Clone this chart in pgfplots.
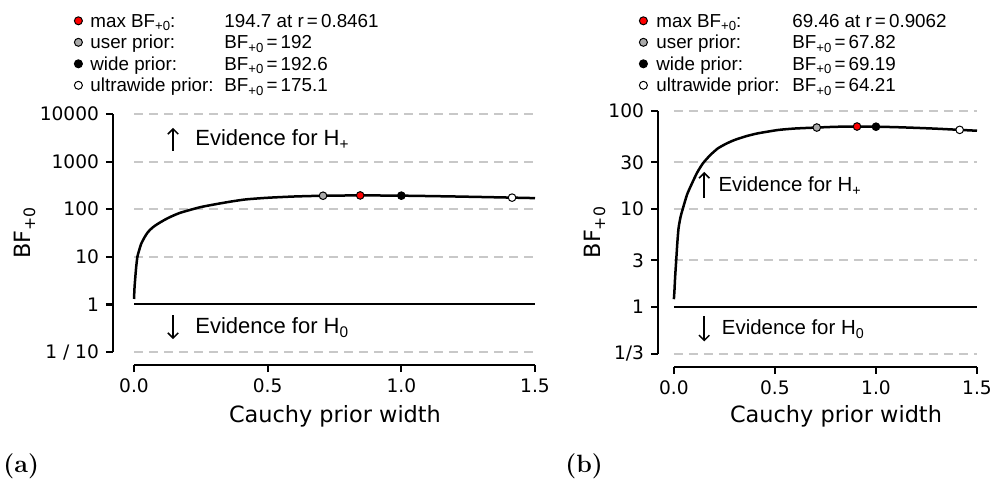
\documentclass[border=0pt]{standalone}
\usepackage{fontspec}
\usepackage{pgfplots}
\pgfplotsset{compat=1.18}
\usetikzlibrary{arrows.meta}
\newfontfamily\arial{Liberation Sans}
\newfontfamily\tickfont{DejaVu Sans}
\definecolor{gridgray}{RGB}{200,200,200}
\definecolor{usergray}{RGB}{170,170,170}
\newcommand{\sub}[1]{\raisebox{-0.35ex}{\scalebox{0.7}{#1}}}
\newcommand{\dotmark}[1]{\tikz[baseline={(0,-3.2pt)}]\draw[line width=0.5pt,fill=#1] (0,0) circle (2pt);}
% arrow symbol for the evidence labels: #1 = length, #2 = up/down
\newcommand{\evarrow}[2]{\tikz\draw[line width=0.75pt, -{Straight Barb[length=2.6pt,width=5.2pt]}] (0,0) -- (0,#2#1);}

\pgfplotsset{
  bfaxis/.style={
    scale only axis, clip=false,
    axis x line*=bottom, axis y line*=left,
    x axis line style={draw=none}, y axis line style={draw=none},
    tick align=outside, major tick length=3.5pt,
    tick style={black, line width=1.1pt},
    xmin=-0.0786, xmax=1.5,
    xtick={0,0.5,1,1.5}, xticklabels={0.0,0.5,1.0,1.5},
    yminorticks=false,
    ticklabel style={font=\tickfont\fontsize{9.3}{11}\selectfont},
    label style={font=\tickfont\fontsize{11.2}{13}\selectfont},
    xlabel={Cauchy prior width}, ylabel={BF\sub{+0}},
  },
  gridline/.style={gridgray, line width=0.9pt, dash pattern=on 4.5pt off 3pt},
  bfcurve/.style={black, line width=1.25pt, no marks, smooth, tension=0.4},
  bfdot/.style={only marks, mark=*, mark size=1.9pt, mark options={fill=#1, draw=black, line width=0.5pt}},
}
\tikzset{legtext/.style={anchor=base west, inner sep=0pt, font=\arial\fontsize{9.4}{11}\selectfont}}

\begin{document}
\begin{tikzpicture}
\path[use as bounding box] (0,0) rectangle (497pt,242pt);

% ---------------- panel (a)
\begin{axis}[ymode=log, bfaxis, at={(56.5pt,59.5pt)}, anchor=south west,
  width=211pt, height=125.5pt,
  ymin=0.0533, ymax=10000,
  ytick={0.1,1,10,100,1000,10000},
  yticklabels={1 / 10,1,10,100,1000,10000},
  xlabel style={at={(axis description cs:0.526,-0.203)}, anchor=center},
  ylabel style={at={(axis description cs:-0.2085,0.526)}, anchor=center},
]
\addplot[gridline] coordinates {(0,0.1)(1.5,0.1)};
\addplot[gridline] coordinates {(0,10)(1.5,10)};
\addplot[gridline] coordinates {(0,100)(1.5,100)};
\addplot[gridline] coordinates {(0,1000)(1.5,1000)};
\addplot[gridline] coordinates {(0,10000)(1.5,10000)};
\addplot[black, line width=1pt] coordinates {(0,1)(1.5,1)};
\addplot[bfcurve] coordinates {
 (0,1.3) (0.002,2.3) (0.005,3.8) (0.008,6) (0.0125,9.9) (0.018,13)
 (0.027,18.8) (0.04,26) (0.052,33) (0.07,41.5) (0.09,49.6) (0.115,60)
 (0.14,70.6) (0.17,83) (0.202,94) (0.25,111) (0.314,130) (0.37,147)
 (0.42,161) (0.5,174) (0.6,185) (0.7071,192) (0.8,194.3) (0.8461,194.7)
 (0.9,194.4) (1.0,192.6) (1.1,189) (1.2,185) (1.3,180.5) (1.4142,175.1) (1.5,171)};
\addplot[bfdot=usergray] coordinates {(0.7071,192)};
\addplot[bfdot=red] coordinates {(0.8461,194.7)};
\addplot[bfdot=black] coordinates {(1,192.6)};
\addplot[bfdot=white] coordinates {(1.4142,175.1)};
\draw[line width=1.1pt] (axis cs:0,0.0533) -- (axis cs:1.5,0.0533);
\draw[line width=1.1pt] (axis cs:-0.0786,0.1) -- (axis cs:-0.0786,10000);
\node[inner sep=0pt] at (axis cs:0.146,2925) {\evarrow{11.5pt}{}};
\node[anchor=base west, inner sep=0pt, font=\arial\fontsize{11}{13}\selectfont] at (axis cs:0.228,2190) {Evidence for H\sub{+}};
\node[inner sep=0pt] at (axis cs:0.146,0.333) {\evarrow{12pt}{-}};
\node[anchor=base west, inner sep=0pt, font=\arial\fontsize{11}{13}\selectfont] at (axis cs:0.228,0.242) {Evidence for H\sub{0}};
\end{axis}

% ---------------- panel (b)
\begin{axis}[ymode=log, bfaxis, at={(329pt,58.5pt)}, anchor=south west,
  width=159.5pt, height=128pt,
  ymin=0.244, ymax=100,
  ytick={0.3333,1,3,10,30,100},
  yticklabels={1/3,1,3,10,30,100},
  xlabel style={at={(axis description cs:0.558,-0.194)}, anchor=center},
  ylabel style={at={(axis description cs:-0.1975,0.525)}, anchor=center},
]
\addplot[gridline] coordinates {(0,0.3333)(1.5,0.3333)};
\addplot[gridline] coordinates {(0,3)(1.5,3)};
\addplot[gridline] coordinates {(0,10)(1.5,10)};
\addplot[gridline] coordinates {(0,30)(1.5,30)};
\addplot[gridline] coordinates {(0,100)(1.5,100)};
\addplot[black, line width=1pt] coordinates {(0,1)(1.5,1)};
\addplot[bfcurve] coordinates {
 (0,1.2) (0.003,1.5) (0.006,2) (0.0115,3) (0.017,4.5) (0.023,6.35)
 (0.033,8.3) (0.045,10.2) (0.065,14) (0.086,17.6) (0.115,23.5) (0.144,29.3)
 (0.18,35.5) (0.218,41.6) (0.26,46.5) (0.3,50.6) (0.36,55.5) (0.416,59.2)
 (0.515,64) (0.6,66.3) (0.7071,67.82) (0.8,69) (0.9062,69.46) (1.0,69.19)
 (1.1,68.4) (1.2,67.3) (1.3,66) (1.4142,64.21) (1.5,62.9)};
\addplot[bfdot=usergray] coordinates {(0.7071,67.82)};
\addplot[bfdot=red] coordinates {(0.9062,69.46)};
\addplot[bfdot=black] coordinates {(1,69.19)};
\addplot[bfdot=white] coordinates {(1.4142,64.21)};
\draw[line width=1.1pt] (axis cs:0,0.244) -- (axis cs:1.5,0.244);
\draw[line width=1.1pt] (axis cs:-0.079,0.3333) -- (axis cs:-0.079,100);
\node[inner sep=0pt] at (axis cs:0.15,17.6) {\evarrow{13pt}{}};
\node[anchor=base west, inner sep=0pt, font=\arial\fontsize{10.2}{12}\selectfont] at (axis cs:0.219,15.0) {Evidence for H\sub{+}};
\node[inner sep=0pt] at (axis cs:0.15,0.597) {\evarrow{12.5pt}{-}};
\node[anchor=base west, inner sep=0pt, font=\arial\fontsize{10.2}{12}\selectfont] at (axis cs:0.236,0.518) {Evidence for H\sub{0}};
\end{axis}

% ---------------- legends
\node[legtext] at (36.75pt,228.4pt) {\dotmark{red}\hspace{3.75pt}max BF\sub{+0}:};
\node[legtext] at (36.75pt,217.65pt) {\dotmark{usergray}\hspace{3.75pt}user prior:};
\node[legtext] at (36.75pt,206.9pt) {\dotmark{black}\hspace{3.75pt}wide prior:};
\node[legtext] at (36.75pt,196.15pt) {\dotmark{white}\hspace{3.75pt}ultrawide prior:};
\node[legtext] at (112pt,228.4pt) {194.7 at r\,=\,0.8461};
\node[legtext] at (112pt,217.65pt) {BF\sub{+0}\,=\,192};
\node[legtext] at (112pt,206.9pt) {BF\sub{+0}\,=\,192.6};
\node[legtext] at (112pt,196.15pt) {BF\sub{+0}\,=\,175.1};

\node[legtext] at (319.25pt,228.4pt) {\dotmark{red}\hspace{4.25pt}max BF\sub{+0}:};
\node[legtext] at (319.25pt,217.65pt) {\dotmark{usergray}\hspace{4.25pt}user prior:};
\node[legtext] at (319.25pt,206.9pt) {\dotmark{black}\hspace{4.25pt}wide prior:};
\node[legtext] at (319.25pt,196.15pt) {\dotmark{white}\hspace{4.25pt}ultrawide prior:};
\node[legtext] at (396pt,228.4pt) {69.46 at r\,=\,0.9062};
\node[legtext] at (396pt,217.65pt) {BF\sub{+0}\,=\,67.82};
\node[legtext] at (396pt,206.9pt) {BF\sub{+0}\,=\,69.19};
\node[legtext] at (396pt,196.15pt) {BF\sub{+0}\,=\,64.21};

% ---------------- panel tags
\node[anchor=west, inner sep=0pt, font=\fontsize{12.5}{14}\selectfont\bfseries] at (1.5pt,9pt) {(a)};
\node[anchor=west, inner sep=0pt, font=\fontsize{12.5}{14}\selectfont\bfseries] at (282.5pt,9pt) {(b)};
\end{tikzpicture}
\end{document}
